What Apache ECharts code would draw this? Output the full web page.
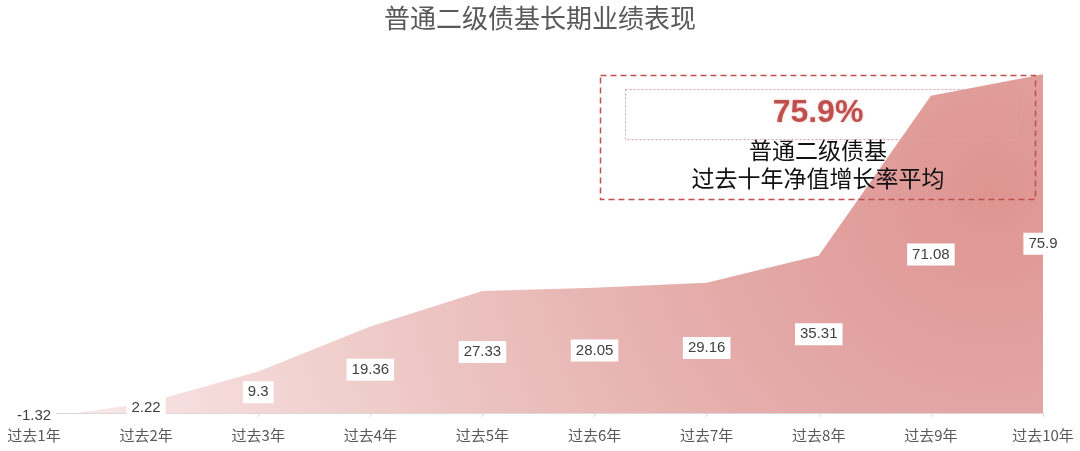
<!DOCTYPE html>
<html><head><meta charset="utf-8">
<script src="https://cdn.jsdelivr.net/npm/echarts@6/dist/echarts.min.js"></script>
<style>html,body{margin:0;padding:0;background:#fff}#c{width:1080px;height:451px}</style>
</head><body><div id="c"></div>
<script>
const categories = ['过去1年','过去2年','过去3年','过去4年','过去5年','过去6年','过去7年','过去8年','过去9年','过去10年'];
const values = [-1.32, 2.22, 9.3, 19.36, 27.33, 28.05, 29.16, 35.31, 71.08, 75.9];
const titleText = '普通二级债基长期业绩表现';
const noteLine1 = '普通二级债基';
const noteLine2 = '过去十年净值增长率平均';
const highlight = values[values.length - 1] + '%';

const chart = echarts.init(document.getElementById('c'));
const font = '"Microsoft YaHei","Noto Sans CJK SC",sans-serif';
const numFont = 'Arial, "Liberation Sans", sans-serif';
chart.setOption({
  animation: false,
  title: {
    text: titleText, left: 'center', top: 0,
    textStyle: { fontSize: 26, fontWeight: 'normal', color: '#595959', fontFamily: font }
  },
  grid: { left: 34, right: 37, top: 56, bottom: 38 },
  xAxis: {
    type: 'category', data: categories, boundaryGap: false,
    axisLine: { lineStyle: { color: '#d9d9d9' } },
    axisTick: { show: true, alignWithLabel: true, length: 4, lineStyle: { color: '#d9d9d9' } },
    axisLabel: { color: '#595959', fontSize: 15, margin: 15, fontFamily: font }
  },
  yAxis: { type: 'value', min: 0, max: 80, show: false, splitLine: { show: false } },
  series: [
    {
      type: 'line', data: values, symbol: 'none', clip: true,
      lineStyle: { width: 0 },
      areaStyle: {
        opacity: 1,
        color: new echarts.graphic.RadialGradient(990, 190, 1000, [
          { offset: 0, color: '#de9592' },
          { offset: 0.3, color: '#e4aba9' },
          { offset: 0.6, color: '#edc7c5' },
          { offset: 1, color: '#fbeeee' }
        ], true)
      },
      z: 1
    },
    {
      type: 'scatter', symbolSize: 0, clip: false,
      itemStyle: { opacity: 1, color: 'rgba(0,0,0,0)' },
      data: values.map((v, i) => [i, v / 2]),
      label: {
        show: true, position: 'inside', opacity: 1,
        formatter: p => String(values[p.dataIndex]),
        backgroundColor: '#ffffff', padding: [4, 5, 3, 5],
        color: '#404040', fontSize: 15, fontFamily: numFont
      },
      emphasis: { disabled: true },
      z: 5
    }
  ],
  graphic: [
    { type: 'rect', left: 598, top: 73, z: 100,
      shape: { width: 435, height: 124 },
      style: { fill: 'none', stroke: '#c0504d', lineWidth: 1.5, lineDash: [6, 4] } },
    { type: 'rect', left: 623, top: 87, z: 100,
      shape: { width: 391, height: 50 },
      style: { fill: 'none', stroke: '#dca3a2', lineWidth: 1, lineDash: [2, 2] } },
    { type: 'text', z: 101,
      style: { text: highlight, x: 818, y: 113, textAlign: 'center', textVerticalAlign: 'middle',
        fontSize: 32, fontWeight: 'bold', fill: '#c0504d', fontFamily: numFont,
        textShadowColor: 'rgba(192,80,77,0.35)', textShadowBlur: 3 } },
    { type: 'text', z: 101,
      style: { text: noteLine1, x: 818, y: 150, textAlign: 'center', textVerticalAlign: 'middle',
        fontSize: 23, fill: '#111', fontFamily: font } },
    { type: 'text', z: 101,
      style: { text: noteLine2, x: 818, y: 178, textAlign: 'center', textVerticalAlign: 'middle',
        fontSize: 23, fill: '#111', fontFamily: font } }
  ]
});
</script></body></html>
